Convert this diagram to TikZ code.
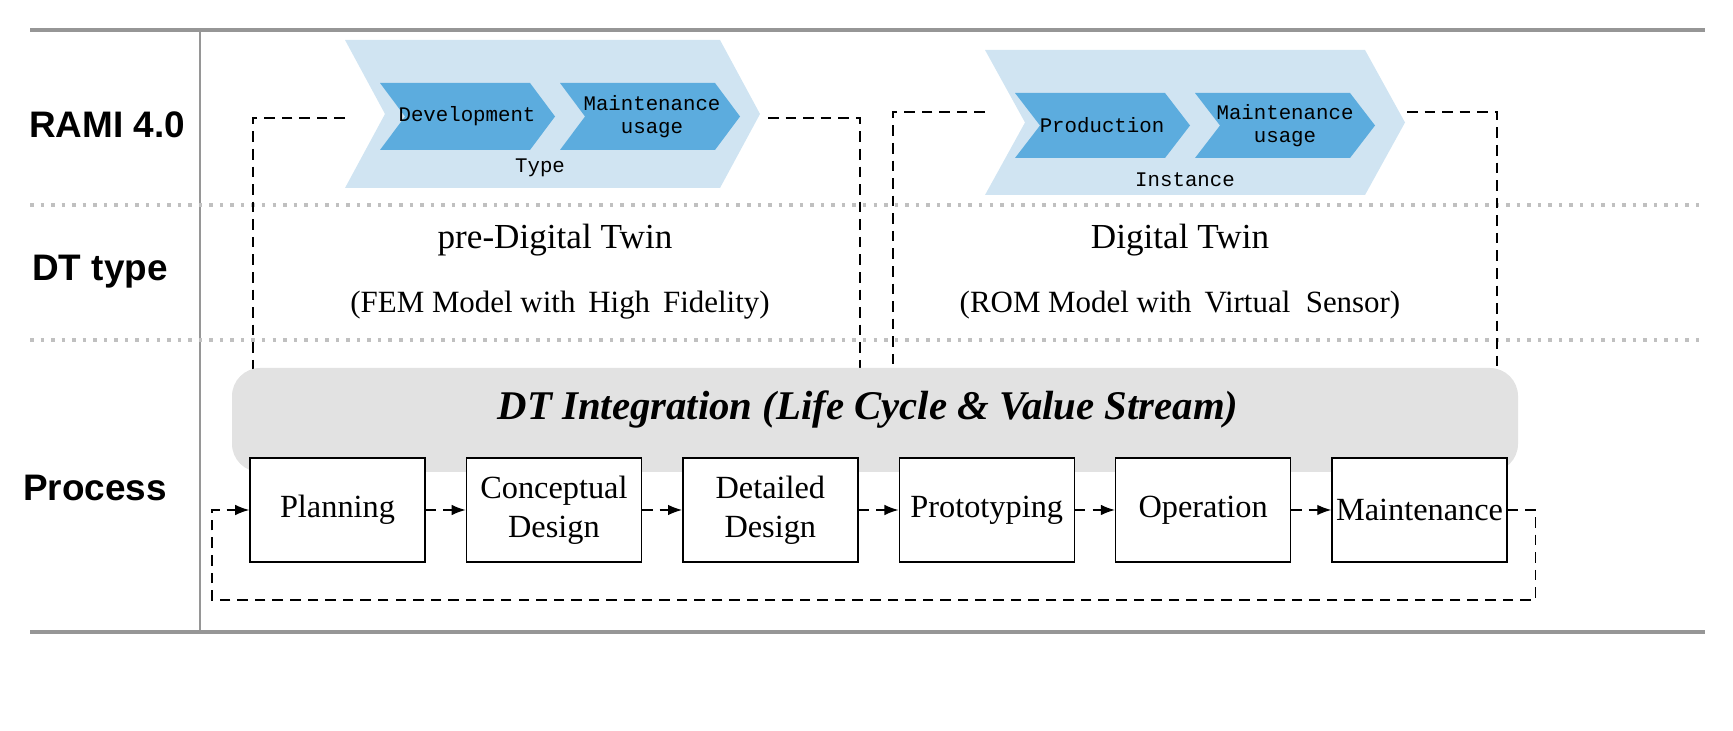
\documentclass[tikz,border=0pt]{standalone}
\usepackage{fontspec}
\setmainfont{Liberation Serif}
\setsansfont{Liberation Sans}
\setmonofont{Liberation Mono}
\usetikzlibrary{positioning,arrows.meta}
\definecolor{chevlight}{RGB}{208,228,242}
\definecolor{chevdark}{RGB}{92,172,222}
\definecolor{intgray}{RGB}{226,226,226}
\definecolor{rulegray}{RGB}{150,150,150}
\tikzset{
  rowlabel/.style={font=\sffamily\bfseries\fontsize{10.5}{12}\selectfont},
  chevtext/.style={font=\ttfamily\fontsize{5.9}{6.6}\selectfont, align=center},
  dttitle/.style={font=\fontsize{10}{12}\selectfont},
  dtsub/.style={font=\fontsize{8.8}{10}\selectfont},
  procbox/.style={draw, fill=white, minimum width=1.75cm, minimum height=1.04cm,
                  align=center, font=\fontsize{9.2}{11}\selectfont, inner sep=1pt},
  flow/.style={densely dashed, -{Latex[length=4pt]}},
}
% chevron: x1, x2, ybot, ytop, depth, colour
\newcommand{\chevron}[6]{%
  \fill[#6] (#1,#4) -- ({#2-#5},#4) -- (#2,{(#3+#4)/2}) -- ({#2-#5},#3)
     -- (#1,#3) -- ({#1+#5},{(#3+#4)/2}) -- cycle;}
\begin{document}
\begin{tikzpicture}
\useasboundingbox (0,0) rectangle (17.33,7.31);
% frame
\draw[rulegray, line width=1.2pt] (0.30,7.01) -- (17.05,7.01);
\draw[rulegray, line width=1.2pt] (0.30,0.99) -- (17.05,0.99);
\draw[rulegray, line width=0.8pt] (2.00,7.01) -- (2.00,0.99);
\draw[rulegray!60, dotted, line width=1pt] (0.30,5.26) -- (17.05,5.26);
\draw[rulegray!60, dotted, line width=1pt] (0.30,3.91) -- (17.05,3.91);
\node[rowlabel] (rami) at (1.07,6.06) {RAMI 4.0};
\node[rowlabel] (dtt) at (1.00,4.59) {DT type};
\node[rowlabel] (proc) at (0.95,2.43) {Process};
% dashed frames
\draw[densely dashed] (3.45,6.13) -- (2.53,6.13) -- (2.53,3.60);
\draw[densely dashed] (7.68,6.13) -- (8.60,6.13) -- (8.60,3.60);
\draw[densely dashed] (9.85,6.19) -- (8.93,6.19) -- (8.93,3.60);
\draw[densely dashed] (14.07,6.19) -- (14.97,6.19) -- (14.97,3.60);
% chevrons
\chevron{3.45}{7.60}{5.43}{6.91}{0.40}{chevlight}
\chevron{3.80}{5.55}{5.81}{6.48}{0.25}{chevdark}
\chevron{5.60}{7.40}{5.81}{6.48}{0.25}{chevdark}
\chevron{9.85}{14.05}{5.36}{6.81}{0.40}{chevlight}
\chevron{10.15}{11.90}{5.73}{6.38}{0.25}{chevdark}
\chevron{11.95}{13.75}{5.73}{6.38}{0.25}{chevdark}
\node[chevtext] (dev) at (4.67,6.145) {Development};
\node[chevtext] (mu1) at (6.52,6.145) {Maintenance\\usage};
\node[chevtext] (type) at (5.40,5.63) {Type};
\node[chevtext] (prod) at (11.02,6.055) {Production};
\node[chevtext] (mu2) at (12.85,6.055) {Maintenance\\usage};
\node[chevtext] (inst) at (11.85,5.51) {Instance};
% DT types
\node[dttitle] (pdt) at (5.55,4.91) {pre-Digital Twin};
\node[dtsub] (fem) at (5.60,4.26) {(FEM Model with\, High\, Fidelity)};
\node[dttitle] (dt) at (11.80,4.91) {Digital Twin};
\node[dtsub] (rom) at (11.80,4.26) {(ROM Model with\, Virtual~ Sensor)};
% integration
\fill[intgray, rounded corners=8pt] (2.32,2.59) rectangle (15.18,3.63);
\node[font=\bfseries\itshape\fontsize{11.6}{14}\selectfont] (integ) at (8.68,3.21)
  {DT Integration (Life Cycle \& Value Stream)};
% process
\node[procbox] (p1) at (3.375,2.21) {Planning};
\node[procbox, right=0.40cm of p1] (p2) {Conceptual\\Design};
\node[procbox, right=0.40cm of p2] (p3) {Detailed\\Design};
\node[procbox, right=0.40cm of p3] (p4) {Prototyping};
\node[procbox, right=0.40cm of p4] (p5) {Operation};
\node[procbox, right=0.40cm of p5] (p6) {Maintenance};
\foreach \a/\b in {p1/p2,p2/p3,p3/p4,p4/p5,p5/p6}
  \draw[flow] (\a) -- (\b);
\draw[flow] (p6.east) -- ++(0.28,0) |- (2.12,1.31) |- (p1.west);
\end{tikzpicture}
\end{document}
